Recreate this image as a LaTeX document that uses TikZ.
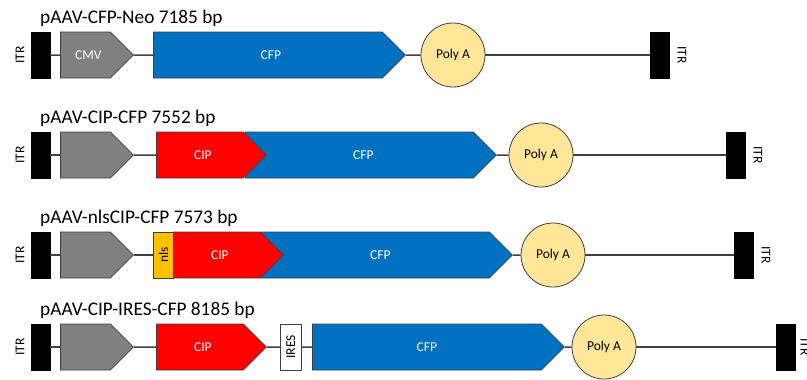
\documentclass[tikz,border=0pt]{standalone}
\usepackage{fontspec}
\setmainfont{Carlito}
\usetikzlibrary{
    arrows.meta,
    positioning,
    shapes.arrows
}

\definecolor{cfpblue}{HTML}{0070C0}
\definecolor{cipred}{HTML}{FF0000}
\definecolor{promgray}{HTML}{808080}
\definecolor{nlsyellow}{HTML}{FFC000}
\definecolor{polyfill}{HTML}{FFE699}
\definecolor{linegray}{HTML}{404040}

\begin{document}
\begin{tikzpicture}[
    x=1pt,
    y=-1pt,
    itr/.style={
        rectangle,
        draw=black,
        fill=black,
        minimum width=19pt,
        minimum height=46pt,
        inner sep=0pt
    },
    itrtext/.style={
        font=\fontsize{13.5}{16}\selectfont,
        inner sep=0pt
    },
    gene/.style={
        single arrow,
        single arrow head extend=0pt,
        single arrow head indent=0pt,
        single arrow tip angle=90,
        minimum width=46pt,
        inner sep=0pt,
        draw=linegray,
        line width=0.8pt,
        text=white,
        anchor=west,
        font=\fontsize{13.5}{16}\selectfont
    },
    promoter/.style={gene,fill=promgray},
    cip/.style={gene,fill=cipred},
    cfp/.style={gene,fill=cfpblue},
    smallbox/.style={
        rectangle,
        draw=linegray,
        line width=0.8pt,
        minimum width=20pt,
        minimum height=46pt,
        inner sep=0pt,
        anchor=west,
        font=\fontsize{13.5}{16}\selectfont
    },
    polya/.style={
        circle,
        draw=linegray,
        line width=0.8pt,
        fill=polyfill,
        minimum size=64pt,
        inner sep=0pt,
        font=\fontsize{13.5}{16}\selectfont
    },
    title/.style={
        anchor=west,
        inner sep=0pt,
        font=\fontsize{19.3}{23}\selectfont
    },
    dna/.style={
        draw=linegray,
        line width=1.5pt
    }
]
\useasboundingbox (0,0) rectangle (807,380);

%--------------------------------------------------
% pAAV-CFP-Neo
\node[title] (titleA) at (40,18) {pAAV-CFP-Neo 7185 bp};
\node[itr] (itrA1) at (40.5,55) {};
\node[itrtext,rotate=90] (itrlabA1) at (20,55) {ITR};
\node[promoter,minimum height=73pt] (promA) at (60,55) {\hspace*{6pt}CMV};
\node[cfp,minimum height=252pt] (cfpA) at (153,55) {\hspace*{6pt}CFP};
\node[polya] (polyA) at (453,55) {Poly A};
\node[itr] (itrA2) at (660,55) {};
\node[itrtext,rotate=-90] (itrlabA2) at (682,55) {ITR};

% pAAV-CIP-CFP
\node[title] (titleB) at (40,118) {pAAV-CIP-CFP 7552 bp};
\node[itr] (itrB1) at (40.5,155) {};
\node[itrtext,rotate=90] (itrlabB1) at (20,155) {ITR};
\node[promoter,minimum height=73pt] (promB) at (60,155) {};
\node[cfp,minimum height=251pt] (cfpB) at (245,155) {\hspace*{8pt}CFP};
\node[cip,minimum height=110pt] (cipB) at (156,155) {\hspace*{6pt}CIP};
\node[polya] (polyB) at (541,155) {Poly A};
\node[itr] (itrB2) at (736,155) {};
\node[itrtext,rotate=-90] (itrlabB2) at (758,155) {ITR};

% pAAV-nlsCIP-CFP
\node[title] (titleC) at (40,218) {pAAV-nlsCIP-CFP 7573 bp};
\node[itr] (itrC1) at (40.5,255) {};
\node[itrtext,rotate=90] (itrlabC1) at (20,255) {ITR};
\node[promoter,minimum height=73pt] (promC) at (60,255) {};
\node[cfp,minimum height=251pt] (cfpC) at (261,255) {\hspace*{10pt}CFP};
\node[cip,minimum height=110pt] (cipC) at (173,255) {\hspace*{6pt}CIP};
\node[smallbox,fill=nlsyellow] (nlsC) at (153,255) {\rotatebox{90}{nls}};
\node[polya] (polyC) at (553,255) {Poly A};
\node[itr] (itrC2) at (744,255) {};
\node[itrtext,rotate=-90] (itrlabC2) at (766,255) {ITR};

% pAAV-CIP-IRES-CFP
\node[title] (titleD) at (40,310) {pAAV-CIP-IRES-CFP 8185 bp};
\node[itr] (itrD1) at (40.5,347) {};
\node[itrtext,rotate=90] (itrlabD1) at (20,347) {ITR};
\node[promoter,minimum height=73pt] (promD) at (60,347) {};
\node[cip,minimum height=110pt] (cipD) at (156,347) {\hspace*{6pt}CIP};
\node[smallbox,fill=white,minimum width=21pt] (iresD) at (280,347) {\rotatebox{90}{IRES}};
\node[cfp,minimum height=252pt] (cfpD) at (312,347) {CFP};
\node[polya] (polyD) at (604,347) {Poly A};
\node[itr] (itrD2) at (785.5,347) {};
\node[itrtext,rotate=-90] (itrlabD2) at (805,347) {ITR};

%--------------------------------------------------
\draw[dna] (itrA1) -- (promA);
\draw[dna] (promA) -- (cfpA);
\draw[dna] (cfpA) -- (polyA);
\draw[dna] (polyA) -- (itrA2);

\draw[dna] (itrB1) -- (promB);
\draw[dna] (promB) -- (cipB);
\draw[dna] (cfpB) -- (polyB);
\draw[dna] (polyB) -- (itrB2);

\draw[dna] (itrC1) -- (promC);
\draw[dna] (promC) -- (nlsC);
\draw[dna] (cfpC) -- (polyC);
\draw[dna] (polyC) -- (itrC2);

\draw[dna] (itrD1) -- (promD);
\draw[dna] (promD) -- (cipD);
\draw[dna] (cipD) -- (iresD);
\draw[dna] (iresD) -- (cfpD);
\draw[dna] (cfpD) -- (polyD);
\draw[dna] (polyD) -- (itrD2);

\end{tikzpicture}
\end{document}
